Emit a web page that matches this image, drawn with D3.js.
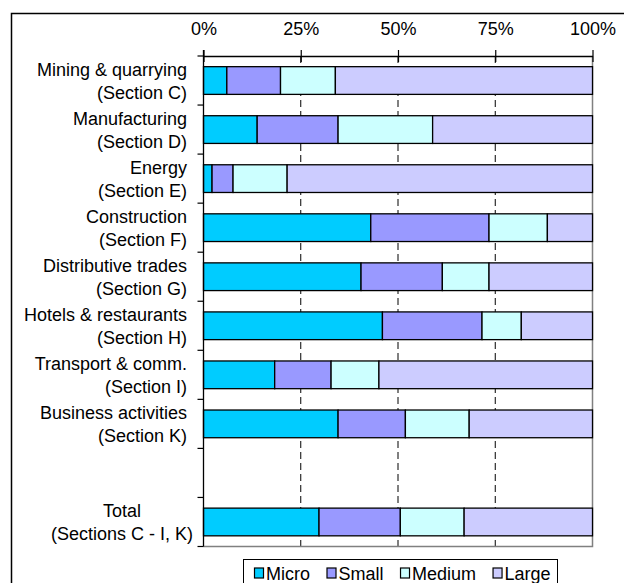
<!DOCTYPE html>
<html>
<head>
<meta charset="utf-8">
<script src="https://cdn.jsdelivr.net/npm/d3@7"></script>
<style>
  html, body { margin: 0; padding: 0; background: #fff; }
  svg { display: block; font-family: "Liberation Sans", Arial, sans-serif; }
</style>
</head>
<body>
<svg id="chart" width="624" height="583"></svg>
<script>
// Enterprise size-class shares by NACE section (percent of total)
const categories = [
  "Mining & quarrying\n(Section C)",
  "Manufacturing\n(Section D)",
  "Energy\n(Section E)",
  "Construction\n(Section F)",
  "Distributive trades\n(Section G)",
  "Hotels & restaurants\n(Section H)",
  "Transport & comm.\n(Section I)",
  "Business activities\n(Section K)",
  "",
  "Total\n(Sections C - I, K)"
];
const sizeClasses = ["Micro", "Small", "Medium", "Large"];
const micro  = [6.0, 13.8, 2.2, 43.0, 40.5, 46.0, 18.3, 34.6, null, 29.7];
const small  = [13.8, 20.8, 5.4, 30.4, 20.9, 25.6, 14.5, 17.3, null, 20.9];
const medium = [14.1, 24.3, 13.9, 15.0, 12.0, 10.1, 12.3, 16.4, null, 16.4];
const large  = [66.1, 41.1, 78.5, 11.6, 26.6, 18.3, 54.9, 31.7, null, 33.0];
const tickValues = [0, 0.25, 0.5, 0.75, 1];
const tickLabels = ["0%", "25%", "50%", "75%", "100%"];
const colors = ["#00CCFF", "#9999FF", "#CCFFFF", "#CCCCFF"];

const svg = d3.select("#chart");
const FONT = 18;

// outer chart frame (runs past the right and bottom edges)
svg.append("rect")
  .attr("x", 11.5).attr("y", 13.5)
  .attr("width", 640).attr("height", 600)
  .attr("fill", "#fff").attr("stroke", "#000").attr("stroke-width", 1.5);

const plot = { left: 203.5, right: 592.5, top: 56, bottom: 546.5 };

const x = d3.scaleLinear().domain([0, 1]).range([plot.left, plot.right]);
const y = d3.scaleBand()
  .domain(d3.range(categories.length))
  .range([plot.top, plot.bottom])
  .paddingInner(0.435)
  .paddingOuter(0.2175);

// rows: one object per category with the four class values
const rows = categories.map((c, i) => ({
  i, Micro: micro[i], Small: small[i], Medium: medium[i], Large: large[i]
}));
const stacked = d3.stack()
  .keys(sizeClasses)
  .value((d, k) => d[k] == null ? 0 : d[k])
  .offset(d3.stackOffsetExpand)(rows);

// dashed vertical gridlines
svg.append("g").selectAll("line")
  .data(tickValues.slice(1, -1))
  .join("line")
  .attr("x1", d => x(d)).attr("x2", d => x(d))
  .attr("y1", plot.top).attr("y2", plot.bottom)
  .attr("stroke", "#000").attr("stroke-width", 1)
  .attr("stroke-dasharray", "7,4");

// plot area border (right and bottom)
svg.append("path")
  .attr("d", `M${plot.right},${plot.top}V${plot.bottom}H${plot.left}`)
  .attr("fill", "none").attr("stroke", "#808080").attr("stroke-width", 1.5);

// stacked bars
svg.append("g").selectAll("g")
  .data(stacked)
  .join("g")
  .attr("fill", (d, i) => colors[i])
  .selectAll("rect")
  .data(d => d.filter(s => rows[s.data.i].Micro != null))
  .join("rect")
  .attr("x", d => x(d[0]))
  .attr("width", d => x(d[1]) - x(d[0]))
  .attr("y", d => y(d.data.i))
  .attr("height", y.bandwidth())
  .attr("stroke", "#000").attr("stroke-width", 1.3);

// top value axis with crossing ticks
const axisG = svg.append("g")
  .attr("transform", `translate(0,${plot.top})`)
  .call(d3.axisTop(x)
    .tickValues(tickValues)
    .tickFormat((d, i) => tickLabels[i])
    .tickSizeInner(6).tickSizeOuter(0).tickPadding(15));
axisG.select(".domain").attr("stroke", "#000").attr("stroke-width", 1.3);
axisG.selectAll(".tick line").attr("y1", 6).attr("y2", -6)
  .attr("stroke", "#000").attr("stroke-width", 1.2);
axisG.selectAll(".tick text")
  .attr("font-size", FONT).attr("font-family", "Liberation Sans, Arial, sans-serif")
  .attr("fill", "#000");

// left category axis: line plus ticks at band boundaries
const step = y.step();
svg.append("line")
  .attr("x1", plot.left).attr("x2", plot.left)
  .attr("y1", plot.top - 6).attr("y2", plot.bottom)
  .attr("stroke", "#000").attr("stroke-width", 1.3);
svg.append("g").selectAll("line")
  .data(d3.range(categories.length + 1))
  .join("line")
  .attr("x1", plot.left - 6).attr("x2", plot.left)
  .attr("y1", i => plot.top + i * step).attr("y2", i => plot.top + i * step)
  .attr("stroke", "#000").attr("stroke-width", 1.2);

// category labels (two lines each)
const labelRight = 187;
const labels = svg.append("g").selectAll("text")
  .data(categories.map((c, i) => ({ lines: c ? c.split("\n") : [], i })))
  .join("text")
  .attr("font-size", FONT).attr("fill", "#000");
labels.each(function (d) {
  const t = d3.select(this);
  const mid = y(d.i) + y.bandwidth() / 2;
  const centred = d.lines[0] === "Total";
  d.lines.forEach((line, k) => {
    t.append("tspan")
      .attr("x", centred ? 122 : labelRight)
      .attr("y", mid + (k === 0 ? -4.5 : 18))
      .attr("text-anchor", centred ? "middle" : "end")
      .text(line);
  });
});

// legend
const legend = svg.append("g");
legend.append("rect")
  .attr("x", 243.5).attr("y", 559.5)
  .attr("width", 314).attr("height", 40)
  .attr("fill", "#fff").attr("stroke", "#000").attr("stroke-width", 1);
let lx = 254.5;
sizeClasses.forEach((name, i) => {
  legend.append("rect")
    .attr("x", lx).attr("y", 568)
    .attr("width", 9).attr("height", 10)
    .attr("fill", colors[i]).attr("stroke", "#000").attr("stroke-width", 1.2);
  const txt = legend.append("text")
    .attr("x", lx + 11.5).attr("y", 579.5)
    .attr("font-size", FONT).attr("fill", "#000")
    .text(name);
  lx += 11.5 + txt.node().getComputedTextLength() + 17;
});
</script>
</body>
</html>
